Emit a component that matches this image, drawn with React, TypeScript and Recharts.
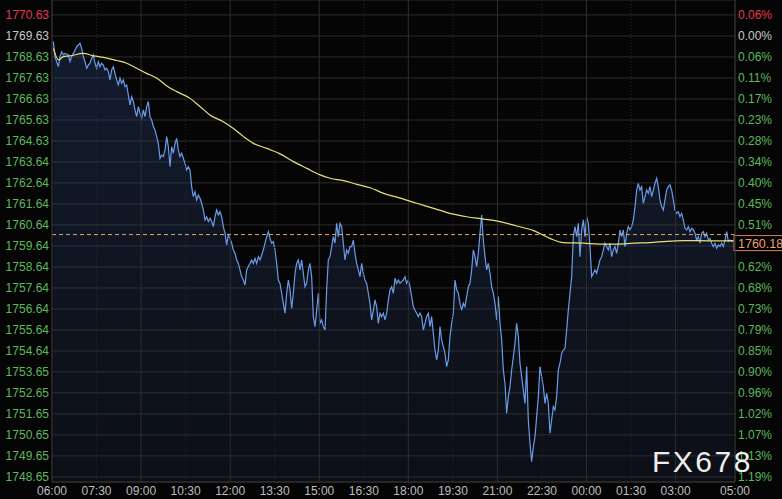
import {
  ComposedChart, Area, Line, XAxis, YAxis, CartesianGrid, ReferenceLine,
} from 'recharts';

const FONT = '"Liberation Sans", Arial, sans-serif';

// time axis: minutes after 06:00
const xTickMinutes = [0, 90, 180, 270, 360, 450, 540, 630, 720, 810, 900, 990, 1080, 1170, 1260, 1380];
const xTickLabels = ['06:00', '07:30', '09:00', '10:30', '12:00', '13:30', '15:00', '16:30', '18:00', '19:30', '21:00', '22:30', '00:00', '01:30', '03:00', '05:00'];

const yTickValues = [
  1770.63, 1769.63, 1768.63, 1767.63, 1766.63, 1765.63, 1764.63, 1763.64, 1762.64, 1761.64, 1760.64, 1759.64,
  1758.64, 1757.64, 1756.64, 1755.64, 1754.64, 1753.65, 1752.65, 1751.65, 1750.65, 1749.65, 1748.65,
];
const pctLabels = [
  '0.06%', '0.00%', '0.06%', '0.11%', '0.17%', '0.23%', '0.28%', '0.34%', '0.40%', '0.45%', '0.51%', '0.56%',
  '0.62%', '0.68%', '0.73%', '0.79%', '0.85%', '0.90%', '0.96%', '1.02%', '1.07%', '1.13%', '1.19%',
];
const prevClose = 1769.63;
const lastPrice = 1760.18;

// price samples, one every ~3.4 minutes
const START_MIN = 2.7;
const STEP_MIN = 3.3674;
const closes = [
  1769.36, 1768.65, 1768.41, 1768.17, 1768.65, 1768.88, 1768.73, 1768.80, 1768.77, 1768.73,
  1768.41, 1768.65, 1768.80, 1768.96, 1769.12, 1769.20, 1769.28, 1769.04, 1768.65, 1768.41,
  1768.09, 1768.25, 1768.33, 1768.57, 1768.73, 1768.33, 1768.09, 1768.41, 1768.17, 1768.33,
  1768.25, 1768.01, 1768.09, 1767.93, 1767.54, 1768.01, 1768.17, 1767.85, 1767.54, 1767.30,
  1767.62, 1767.38, 1767.54, 1767.22, 1767.30, 1766.82, 1766.35, 1766.74, 1766.51, 1766.11,
  1765.79, 1766.27, 1765.95, 1765.71, 1766.11, 1765.79, 1766.27, 1766.51, 1765.79, 1765.63,
  1765.32, 1765.16, 1764.84, 1764.52, 1763.81, 1763.97, 1763.89, 1764.21, 1764.84, 1764.36,
  1763.41, 1764.36, 1764.05, 1764.52, 1764.76, 1764.21, 1763.89, 1764.05, 1763.81, 1763.57,
  1763.25, 1763.41, 1763.25, 1762.46, 1761.99, 1762.22, 1761.83, 1762.06, 1761.91, 1761.67,
  1761.35, 1760.88, 1761.03, 1760.80, 1760.95, 1760.80, 1760.56, 1761.03, 1761.35, 1761.11,
  1761.27, 1761.03, 1760.56, 1760.24, 1759.69, 1760.16, 1760.00, 1759.77, 1759.45, 1759.29,
  1758.97, 1758.81, 1758.50, 1758.18, 1758.02, 1757.78, 1758.50, 1758.66, 1758.81, 1758.97,
  1758.81, 1759.05, 1758.81, 1759.13, 1758.97, 1759.21, 1759.45, 1759.77, 1760.08, 1760.32,
  1760.00, 1759.77, 1759.84, 1759.45, 1758.81, 1758.02, 1757.86, 1757.39, 1756.91, 1756.44,
  1757.39, 1758.02, 1757.55, 1756.67, 1757.39, 1758.34, 1758.81, 1758.97, 1758.50, 1758.97,
  1758.34, 1757.70, 1757.86, 1758.50, 1758.81, 1758.18, 1756.28, 1755.80, 1756.59, 1757.39,
  1755.96, 1756.12, 1755.80, 1755.64, 1757.55, 1758.97, 1759.13, 1759.61, 1760.08, 1759.77,
  1760.72, 1760.08, 1760.72, 1760.56, 1759.77, 1758.97, 1759.45, 1759.29, 1759.61, 1759.61,
  1759.92, 1759.29, 1758.81, 1758.50, 1758.18, 1758.81, 1758.34, 1758.02, 1757.86, 1757.39,
  1756.91, 1756.12, 1756.59, 1757.07, 1756.75, 1755.96, 1756.44, 1756.28, 1756.44, 1756.12,
  1756.44, 1757.07, 1757.55, 1757.70, 1757.39, 1758.10, 1757.86, 1758.02,
  1757.86, 1757.94, 1758.02, 1758.18, 1757.86, 1758.02, 1757.70, 1757.23, 1756.75, 1756.59,
  1756.44, 1756.28, 1756.44, 1756.28, 1755.64, 1755.96, 1756.28, 1756.44, 1755.80, 1756.28,
  1755.48, 1754.69, 1754.22, 1754.69, 1755.80, 1755.17, 1754.85, 1754.53, 1753.90, 1754.22,
  1755.33, 1755.96, 1756.44, 1758.02, 1757.55, 1757.39, 1756.91, 1756.59, 1756.91, 1756.75,
  1757.23, 1757.70, 1757.86, 1758.50, 1759.45, 1759.13, 1758.66, 1759.29, 1760.24, 1761.11,
  1759.92, 1759.13, 1758.50, 1758.81, 1758.34, 1757.70, 1757.39, 1756.91, 1756.12, 1757.23,
  1755.96, 1755.17, 1753.74, 1753.11, 1751.68, 1752.47, 1752.95, 1753.74, 1754.37, 1755.01,
  1755.96, 1755.33, 1754.06, 1753.42, 1752.79, 1752.15, 1753.90, 1751.36, 1750.25, 1749.38,
  1750.09, 1750.57, 1751.52, 1752.47, 1753.90, 1753.42, 1752.95, 1752.15, 1752.63, 1752.15,
  1750.73, 1751.36, 1752.00, 1751.84, 1752.47, 1753.74, 1754.06, 1754.53, 1754.69, 1754.77,
  1755.64, 1756.59, 1757.39, 1758.18, 1760.08, 1760.56, 1760.08, 1760.72, 1759.13, 1760.40,
  1760.88, 1760.08, 1761.03, 1760.72, 1759.61, 1758.18, 1758.34, 1758.50, 1758.34, 1758.66,
  1758.97, 1759.13, 1759.45, 1759.77, 1759.61, 1759.45, 1759.77, 1759.13, 1759.45, 1759.61,
  1759.29, 1759.77, 1760.40, 1760.08, 1760.40, 1759.61, 1760.24, 1760.56, 1760.40, 1760.56,
  1760.88, 1761.51, 1762.30, 1762.62, 1762.30, 1762.46, 1761.67, 1761.99, 1762.30, 1762.14,
  1762.46, 1761.99, 1762.30, 1762.62, 1762.86, 1762.46, 1761.83, 1761.51, 1761.35, 1761.83,
  1762.30, 1762.46, 1762.54, 1762.30, 1761.83, 1761.35, 1761.19, 1761.27, 1761.03, 1761.19,
  1760.88, 1760.48, 1760.40, 1760.56, 1760.32, 1760.48, 1760.40, 1760.24, 1759.92, 1760.08,
  1759.77, 1760.24, 1760.32, 1760.08, 1760.24, 1759.92, 1760.00, 1759.77, 1759.61, 1759.77,
  1759.53, 1759.69, 1759.61, 1759.77, 1759.61, 1759.92, 1760.32, 1759.85, 1759.92, 1759.85,
  1759.89,
];

// moving average (yellow)
const maMinutes = [
  3, 13, 23, 36, 63, 84, 104, 131, 151, 171, 191, 212, 232, 252, 279, 299, 319, 346, 366, 387,
  407, 434, 461, 488, 515, 542, 562, 589, 616, 643, 670, 700, 737, 771, 804, 838, 872, 905, 939, 973,
  1006, 1033, 1074, 1107, 1141, 1175, 1208, 1242, 1276, 1309, 1343, 1377,
];
const maValues = [
  1769.04, 1768.49, 1768.65, 1768.68, 1768.80, 1768.68, 1768.61, 1768.46, 1768.33, 1768.09,
  1767.85, 1767.62, 1767.25, 1766.98, 1766.66, 1766.27, 1765.87, 1765.55, 1765.24, 1764.84,
  1764.52, 1764.28, 1764.02, 1763.65, 1763.33, 1763.02, 1762.86, 1762.75, 1762.57, 1762.41,
  1762.14, 1761.94, 1761.67, 1761.43, 1761.19, 1761.03, 1760.92, 1760.80, 1760.59, 1760.37,
  1760.00, 1759.80, 1759.77, 1759.73, 1759.73, 1759.77, 1759.80, 1759.86, 1759.89, 1759.89,
  1759.88, 1759.89,
];

const priceData = closes.map((p, i) => ({ t: START_MIN + i * STEP_MIN, price: p }));
const maData = maMinutes.map((t, i) => ({ t, ma: maValues[i] }));

const Y_DOMAIN: [number, number] = [1748.41, 1771.34];

function tickColor(v: number) {
  if (v > prevClose + 0.005) return '#e23a50';
  if (Math.abs(v - prevClose) < 0.005) return '#c8c8c8';
  return '#5cb85c';
}

function LeftTick(props: any) {
  const { x, y, payload } = props;
  return (
    <text x={x} y={y} dy={4} textAnchor="end" fill={tickColor(payload.value)} fontSize={12} fontFamily={FONT}>
      {Number(payload.value).toFixed(2)}
    </text>
  );
}

function RightTick(props: any) {
  const { x, y, payload } = props;
  const idx = yTickValues.findIndex(v => Math.abs(v - payload.value) < 0.001);
  // the last-price tag sits on top of the tick right under it
  if (payload.value < lastPrice && lastPrice - payload.value < 0.8) return <g />;
  return (
    <text x={x} y={y} dy={4} textAnchor="start" fill={tickColor(payload.value)} fontSize={12} fontFamily={FONT}>
      {idx >= 0 ? pctLabels[idx] : ''}
    </text>
  );
}

function PriceTag(props: any) {
  const vb = props.viewBox || {};
  const right = (vb.x ?? 52) + (vb.width ?? 683);
  const top = vb.y ?? 0;
  return (
    <g>
      <rect x={right - 1} y={top + 1} width={60} height={15} fill="#000" stroke="#d9825a" strokeWidth={1} />
      <text x={right + 3} y={top + 13} fill="#f0a06c" fontSize={12.5} fontFamily={FONT}>
        {lastPrice.toFixed(2)}
      </text>
    </g>
  );
}

export default function App() {
  return (
    <div style={{ position: 'absolute', left: 0, top: 0, width: 782, height: 499, background: '#050505', overflow: 'hidden' }}>
      <ComposedChart width={782} height={499} data={priceData} margin={{ top: 0, right: 0, bottom: 0, left: 0 }}>
        <defs>
          <linearGradient id="fillGrad" x1="0" y1="0" x2="0" y2="1">
            <stop offset="0%" stopColor="#2f4a85" stopOpacity={0.55} />
            <stop offset="100%" stopColor="#233050" stopOpacity={0.38} />
          </linearGradient>
        </defs>
        <CartesianGrid vertical={false} stroke="#2c2c2c" />
        <XAxis
          dataKey="t"
          type="number"
          domain={[0, 1380]}
          ticks={xTickMinutes}
          interval={0}
          tickFormatter={v => xTickLabels[xTickMinutes.indexOf(v)] ?? ''}
          tick={{ fill: '#bdbdbd', fontSize: 12, fontFamily: FONT }}
          tickLine={false}
          tickSize={0}
          tickMargin={4}
          axisLine={{ stroke: '#333' }}
          height={17}
        />
        <YAxis
          type="number"
          domain={Y_DOMAIN}
          ticks={yTickValues}
          interval={0}
          tick={LeftTick}
          tickLine={false}
          tickSize={0}
          tickMargin={3}
          axisLine={{ stroke: '#444' }}
          width={52}
          allowDataOverflow
        />
        <YAxis
          yAxisId="right"
          orientation="right"
          type="number"
          domain={Y_DOMAIN}
          ticks={yTickValues}
          interval={0}
          tick={RightTick}
          tickLine={false}
          tickSize={0}
          tickMargin={3}
          axisLine={{ stroke: '#444' }}
          width={47}
          allowDataOverflow
        />
        {xTickMinutes.filter(m => m > 0 && m < 1380).map(m => (
          <ReferenceLine
            key={`vx-${m}`}
            x={m}
            stroke={m % 180 === 0 ? '#2e2e2e' : '#262626'}
            strokeDasharray={m % 180 === 0 ? undefined : '1 2'}
          />
        ))}
        <Area
          type="linear"
          dataKey="price"
          stroke="#6a9be8"
          strokeWidth={1.2}
          fill="url(#fillGrad)"
          dot={false}
          activeDot={false}
          isAnimationActive={false}
        />
        <Line
          data={maData}
          type="monotone"
          dataKey="ma"
          stroke="#e6e07a"
          strokeWidth={1.2}
          dot={false}
          activeDot={false}
          isAnimationActive={false}
        />
        <ReferenceLine y={lastPrice} stroke="#e0a86a" strokeDasharray="4 3" label={PriceTag} />
      </ComposedChart>
      <div
        style={{
          position: 'absolute', left: 652, top: 447, fontFamily: FONT, fontSize: 30, lineHeight: '30px',
          letterSpacing: 2.5, color: '#eeeeee',
        }}
      >
        FX678
      </div>
    </div>
  );
}
